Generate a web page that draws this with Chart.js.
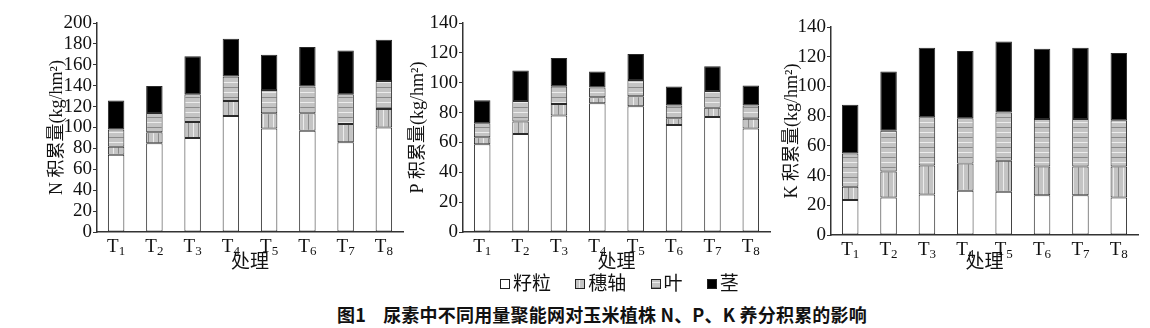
<!DOCTYPE html>
<html>
<head>
<meta charset="utf-8">
<script src="https://cdn.jsdelivr.net/npm/chart.js@4.4.1/dist/chart.umd.min.js"></script>
<style>
  body { margin: 0; background: #fff; width: 1150px; height: 328px; overflow: hidden; position: relative; }
  .box { position: absolute; top: 0; height: 275px; }
  #legend { position: absolute; left: 500px; top: 270px; font: 19px "Noto Sans CJK SC", sans-serif; color: #111; white-space: nowrap; line-height: 24px; }
  #legend span.sw { display: inline-block; width: 8px; height: 8px; border: 1px solid #222; vertical-align: 1px; margin-right: 3px; }
  #legend span.item { margin-right: 20px; }
  #caption { position: absolute; left: 337px; top: 302px; font: bold 18px "Noto Sans CJK SC", sans-serif; color: #111; white-space: nowrap; line-height: 24px; letter-spacing: 0.2px; }
</style>
</head>
<body>
<div class="box" style="left:0;width:405px"><canvas id="chartN"></canvas></div>
<div class="box" style="left:400px;width:372px"><canvas id="chartP"></canvas></div>
<div class="box" style="left:770px;width:370px"><canvas id="chartK"></canvas></div>
<div id="legend">
  <span class="item"><span class="sw" style="background:#fff"></span>籽粒</span>
  <span class="item"><span class="sw" id="swCob"></span>穗轴</span>
  <span class="item"><span class="sw" id="swLeaf"></span>叶</span>
  <span class="item"><span class="sw" style="background:#000"></span>茎</span>
</div>
<div id="caption">图1&nbsp;&nbsp;&nbsp;&nbsp;尿素中不同用量聚能网对玉米植株 N、P、K 养分积累的影响</div>
<script>
const categories = ["1", "2", "3", "4", "5", "6", "7", "8"];
const seriesNames = ["籽粒", "穗轴", "叶", "茎"];

// N 积累量 (kg/hm2), segment values
const nGrain = [74, 85, 90, 111, 99, 97, 86, 100];
const nCob = [7.6, 10.4, 15.3, 14.4, 14.6, 16.6, 17.4, 17.8];
const nLeaf = [16.6, 18.5, 26.5, 23.4, 22.4, 25.6, 28.4, 26.8];
const nStem = [27.6, 25.9, 36.5, 36.2, 33.6, 37.8, 42, 39.4];

// P
const pGrain = [58.7, 65.6, 78, 86.2, 84.2, 71.7, 77.1, 69.4];
const pCob = [4.7, 8.5, 7.8, 4.1, 6.7, 4.5, 6.2, 6.5];
const pLeaf = [9.4, 13.7, 11.9, 6.5, 11, 8.5, 11.2, 8.8];
const pStem = [15.5, 20.4, 18.8, 10.7, 17.3, 12.7, 16.6, 13.4];

// K
const kGrain = [23.5, 25.3, 27.3, 29.8, 29.1, 26.7, 26.7, 25.3];
const kCob = [9, 17.5, 19.5, 18.4, 20.9, 19.4, 19.4, 20.8];
const kLeaf = [22.4, 27.3, 32.5, 30.4, 32.4, 31.9, 31.9, 31.2];
const kStem = [32.7, 39.9, 46.8, 45.3, 47.8, 47.4, 48.1, 45.2];

function makePattern(vertical) {
  const c = document.createElement("canvas");
  c.width = 10; c.height = 10;
  const g = c.getContext("2d");
  g.fillStyle = "#c4c4c4";
  g.fillRect(0, 0, 10, 10);
  if (vertical) {
    g.fillStyle = "#ececec"; g.fillRect(3, 0, 1, 10);
    g.fillStyle = "#8a8a8a"; g.fillRect(8, 0, 1, 10);
  } else {
    g.fillStyle = "#ececec"; g.fillRect(0, 2, 10, 1);
    g.fillStyle = "#8a8a8a"; g.fillRect(0, 7, 10, 1);
  }
  return c;
}
const cobCanvas = makePattern(true);
const leafCanvas = makePattern(false);
document.getElementById("swCob").style.background = "url(" + cobCanvas.toDataURL() + ")";
document.getElementById("swLeaf").style.background = "url(" + leafCanvas.toDataURL() + ")";

const serif = '"Liberation Serif", "Noto Sans CJK SC", serif';

// T with subscript number under each category
const subLabels = {
  id: "subLabels",
  afterDraw(chart) {
    const scale = chart.scales.x;
    const ctx = chart.ctx;
    ctx.save();
    ctx.fillStyle = "#111";
    ctx.textBaseline = "alphabetic";
    categories.forEach((c, i) => {
      const x = scale.getPixelForTick(i);
      ctx.font = "19px " + serif;
      const wT = ctx.measureText("T").width;
      ctx.font = "13px " + serif;
      const wS = ctx.measureText(c).width;
      const left = x - (wT + wS) / 2;
      const base = scale.top + 20;
      ctx.font = "19px " + serif;
      ctx.fillText("T", left, base);
      ctx.font = "13px " + serif;
      ctx.fillText(c, left + wT, base + 3);
    });
    ctx.restore();
  }
};

function makeChart(id, title, data, yMax, opt) {
  const patCtx = document.getElementById(id).getContext("2d");
  const fills = ["#ffffff", patCtx.createPattern(cobCanvas, "repeat"), patCtx.createPattern(leafCanvas, "repeat"), "#000000"];
  new Chart(document.getElementById(id), {
    type: "bar",
    data: {
      labels: categories,
      datasets: data.map((d, i) => ({
        label: seriesNames[i],
        data: d,
        backgroundColor: fills[i],
        borderColor: "#2a2a2a",
        borderWidth: 1,
        borderSkipped: false,
        barPercentage: 0.43,
        categoryPercentage: 1
      }))
    },
    plugins: [subLabels],
    options: {
      responsive: true,
      maintainAspectRatio: false,
      animation: false,
      layout: { padding: { left: opt.padLeft, right: 2, top: opt.top, bottom: 0 } },
      plugins: { legend: { display: false }, tooltip: { enabled: false } },
      scales: {
        x: {
          stacked: true,
          grid: { display: false },
          border: { display: true, color: "#333", width: 1.5 },
          ticks: { display: false },
          title: { display: true, text: "处理", font: { family: serif, size: 19 }, color: "#111", padding: { top: 0, bottom: 1 } },
          afterFit(s) { s.height = opt.xHeight; s.paddingLeft = 0; s.paddingRight = 0; }
        },
        y: {
          stacked: true,
          min: 0,
          max: yMax,
          ticks: { stepSize: 20, autoSkip: false, padding: 1, color: "#111", font: { family: serif, size: 19 } },
          grid: { drawOnChartArea: false, drawTicks: true, tickLength: 4, color: "#333" },
          border: { display: true, color: "#333", width: 1.5 },
          title: { display: true, text: title, font: { family: serif, size: 18 }, color: "#111", padding: { top: 4, bottom: 0 } },
          afterFit(s) { s.width = opt.yWidth; s.paddingTop = 0; s.paddingBottom = 0; }
        }
      }
    }
  });
}

makeChart("chartN", "N 积累量(kg/hm²)", [nGrain, nCob, nLeaf, nStem], 200, { padLeft: 42, yWidth: 55, top: 23, xHeight: 43 });
makeChart("chartP", "P 积累量(kg/hm²)", [pGrain, pCob, pLeaf, pStem], 140, { padLeft: 3, yWidth: 60, top: 23, xHeight: 43 });
makeChart("chartK", "K 积累量(kg/hm²)", [kGrain, kCob, kLeaf, kStem], 140, { padLeft: 7, yWidth: 54, top: 27, xHeight: 40 });
</script>
</body>
</html>
